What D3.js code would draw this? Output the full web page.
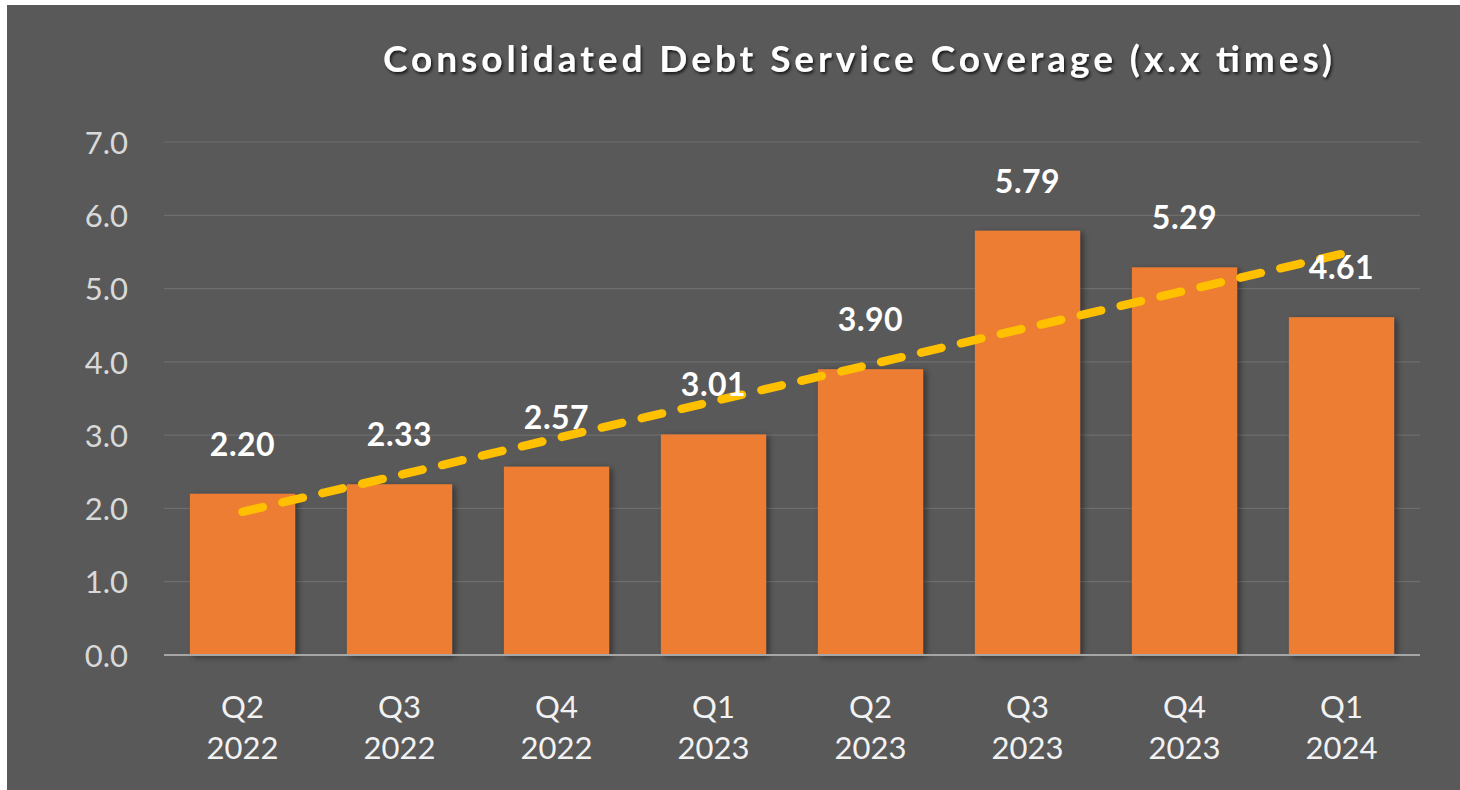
<!DOCTYPE html>
<html>
<head>
<meta charset="utf-8">
<script src="https://cdn.jsdelivr.net/npm/d3@7"></script>
<style>
  html, body { margin: 0; padding: 0; background: #ffffff; }
  svg { display: block; }
</style>
</head>
<body>
<svg id="chart" width="1460" height="790"></svg>
<script>
const categories = ["Q2\n2022", "Q3\n2022", "Q4\n2022", "Q1\n2023", "Q2\n2023", "Q3\n2023", "Q4\n2023", "Q1\n2024"];
const values = [2.20, 2.33, 2.57, 3.01, 3.90, 5.79, 5.29, 4.61];
const yTicks = [0, 1, 2, 3, 4, 5, 6, 7];
const titleText = "Consolidated Debt Service Coverage (x.x times)";

const svg = d3.select("#chart");
const W = 1460, H = 790;

const defs = svg.append("defs");
const barShadow = defs.append("filter").attr("id", "barShadow")
  .attr("x", "-20%").attr("y", "-20%").attr("width", "140%").attr("height", "140%");
barShadow.append("feDropShadow").attr("dx", 3).attr("dy", 2).attr("stdDeviation", 3)
  .attr("flood-color", "#000").attr("flood-opacity", 0.45);
const titleShadow = defs.append("filter").attr("id", "titleShadow")
  .attr("x", "-10%").attr("y", "-50%").attr("width", "120%").attr("height", "200%");
titleShadow.append("feDropShadow").attr("dx", 1.5).attr("dy", 2).attr("stdDeviation", 1.8)
  .attr("flood-color", "#000").attr("flood-opacity", 0.75);

// background
svg.append("rect").attr("x", 7).attr("y", 5).attr("width", W - 7).attr("height", H - 5)
  .attr("fill", "#595959");

const x = d3.scaleBand().domain(categories).range([164, 1420]).paddingInner(0.33).paddingOuter(0.165);
const y = d3.scaleLinear().domain([0, 7]).range([655, 142]);

// gridlines
svg.append("g").selectAll("line").data(yTicks.filter(d => d > 0)).join("line")
  .attr("x1", 164).attr("x2", 1420)
  .attr("y1", d => y(d)).attr("y2", d => y(d))
  .attr("stroke", "#6e6e6e").attr("stroke-width", 1.2);

// y axis labels
const yAxis = d3.axisLeft(y).tickValues(yTicks).tickFormat(d3.format(".1f")).tickSize(0).tickPadding(0);
const yg = svg.append("g").attr("transform", "translate(128,0)").call(yAxis);
yg.select(".domain").remove();
yg.selectAll("text")
  .attr("fill", "#d9d9d9")
  .attr("font-family", "Lato, 'Open Sans', sans-serif")
  .attr("font-size", 31)
  .attr("dy", "0.36em");

// bars
svg.append("g").selectAll("rect").data(values).join("rect")
  .attr("x", (d, i) => x(categories[i]))
  .attr("width", x.bandwidth())
  .attr("y", d => y(d))
  .attr("height", d => y(0) - y(d))
  .attr("fill", "#ED7D31")
  .attr("filter", "url(#barShadow)");

// baseline axis
const xAxis = d3.axisBottom(x).tickSize(0).tickFormat("");
const xg = svg.append("g").attr("transform", `translate(0,${y(0)})`).call(xAxis);
xg.select(".domain").attr("stroke", "#a6a6a6").attr("stroke-width", 2)
  .attr("d", `M164,0H1420`);

// category labels (two lines)
const catG = svg.append("g");
categories.forEach((c, i) => {
  const lines = c.split("\n");
  const t = catG.append("text")
    .attr("x", x(c) + x.bandwidth() / 2)
    .attr("y", 718)
    .attr("text-anchor", "middle")
    .attr("fill", "#f2f2f2")
    .attr("font-family", "Lato, 'Open Sans', sans-serif")
    .attr("font-size", 31);
  lines.forEach((ln, k) => {
    t.append("tspan").attr("x", x(c) + x.bandwidth() / 2).attr("dy", k === 0 ? 0 : 41).text(ln);
  });
});

// trend line (least-squares fit of the series)
const n = values.length;
const xs = d3.range(n);
const mx = d3.mean(xs), my = d3.mean(values);
const slope = d3.sum(xs, i => (i - mx) * (values[i] - my)) / d3.sum(xs, i => (i - mx) * (i - mx));
const intercept = my - slope * mx;
const trend = [0, n - 1].map(i => [x(categories[i]) + x.bandwidth() / 2, y(intercept + slope * i)]);
svg.append("path")
  .attr("d", d3.line()(trend))
  .attr("fill", "none")
  .attr("stroke", "#FFC000")
  .attr("stroke-width", 8.5)
  .attr("stroke-linecap", "round")
  .attr("stroke-dasharray", "21,20");

// data labels
svg.append("g").selectAll("text").data(values).join("text")
  .attr("x", (d, i) => x(categories[i]) + x.bandwidth() / 2)
  .attr("y", d => y(d) - 38)
  .attr("text-anchor", "middle")
  .attr("fill", "#ffffff")
  .attr("font-family", "Lato, 'Open Sans', sans-serif")
  .attr("font-weight", "bold")
  .attr("font-size", 32)
  .attr("letter-spacing", 0.5)
  .text(d => d3.format(".2f")(d));

// title
svg.append("text")
  .attr("x", 383).attr("y", 72)
  .attr("fill", "#ffffff")
  .attr("font-family", "Lato, 'Open Sans', sans-serif")
  .attr("font-weight", "bold")
  .attr("font-size", 37)
  .attr("textLength", 949)
  .attr("lengthAdjust", "spacing")
  .attr("filter", "url(#titleShadow)")
  .text(titleText);
</script>
</body>
</html>
